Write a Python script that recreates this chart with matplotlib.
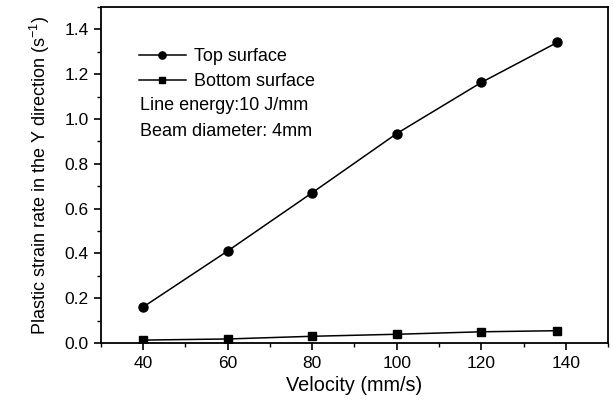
import matplotlib
matplotlib.use("Agg")
import matplotlib.pyplot as plt
from matplotlib.ticker import MultipleLocator

plt.rcParams['font.family'] = ['Liberation Sans', 'DejaVu Sans']
plt.rcParams['mathtext.default'] = 'regular'

velocity = [40, 60, 80, 100, 120, 138]
top_rate = [0.161, 0.411, 0.671, 0.935, 1.163, 1.342]
bottom_rate = [0.013, 0.018, 0.030, 0.039, 0.050, 0.055]

fig = plt.figure(figsize=(6.13, 4.05), dpi=100)
ax = fig.add_axes([101/613, 1 - 343/405, 507/613, 336/405])

ax.plot(velocity, top_rate, color='black', lw=1.1, marker='o', ms=6.5, label='Top surface')
ax.plot(velocity, bottom_rate, color='black', lw=1.1, marker='s', ms=6, label='Bottom surface')

ax.set_xlim(30, 150)
ax.set_ylim(0, 1.5)
ax.xaxis.set_major_locator(MultipleLocator(20))
ax.xaxis.set_minor_locator(MultipleLocator(10))
ax.yaxis.set_major_locator(MultipleLocator(0.2))
ax.yaxis.set_minor_locator(MultipleLocator(0.1))
ax.yaxis.set_major_formatter(plt.FormatStrFormatter('%.1f'))
ax.tick_params(which='major', direction='out', length=5, width=1.2, labelsize=12.5, pad=4)
ax.tick_params(which='minor', direction='out', length=3, width=1.0)
ax.set_xticks([40, 60, 80, 100, 120, 140])
for s in ax.spines.values():
    s.set_linewidth(1.3)

ax.set_xlabel('Velocity (mm/s)', fontsize=14.3, labelpad=4)
ax.set_ylabel('Plastic strain rate in the Y direction (s$^{-1}$)', fontsize=13, labelpad=9)

leg = ax.legend(loc='upper left', bbox_to_anchor=((139 - 101) / 507, (343 - 48) / 336),
                frameon=False, fontsize=13, handlelength=2.6, handletextpad=0.45,
                labelspacing=0.45, borderpad=0, borderaxespad=0, markerscale=0.8)

ax.text((140 - 101) / 507, (343 - 106) / 336, 'Line energy:10 J/mm', transform=ax.transAxes,
        fontsize=13, va='center', ha='left')
ax.text((140 - 101) / 507, (343 - 131) / 336, 'Beam diameter: 4mm', transform=ax.transAxes,
        fontsize=13, va='center', ha='left')

fig.savefig('out.png', dpi=100)
